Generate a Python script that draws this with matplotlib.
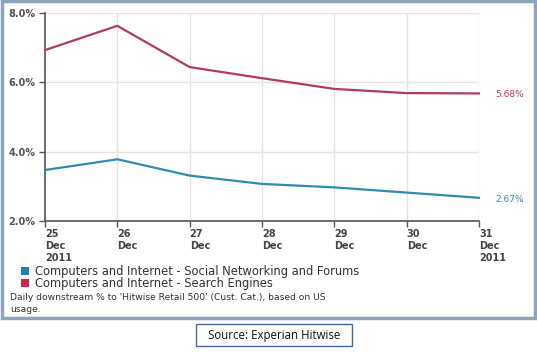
import matplotlib
matplotlib.use("Agg")
import matplotlib.pyplot as plt
from matplotlib.patches import Rectangle
import matplotlib.transforms as mtrans

dates = ["25\nDec\n2011", "26\nDec", "27\nDec", "28\nDec", "29\nDec", "30\nDec", "31\nDec\n2011"]
social = [3.47, 3.78, 3.31, 3.07, 2.97, 2.82, 2.67]
search = [6.93, 7.63, 6.44, 6.12, 5.81, 5.69, 5.68]
yticks = [2.0, 4.0, 6.0, 8.0]
series_names = ["Computers and Internet - Social Networking and Forums",
                "Computers and Internet - Search Engines"]

W, H = 537, 353
fig = plt.figure(figsize=(W / 100, H / 100), dpi=100)
fig.patch.set_facecolor("white")

def fx(px):
    return px / W

def fy(py):
    return 1 - py / H

# outer bordered panel
fig.patches.append(Rectangle((fx(1.5), fy(318)), fx(533), 317 / H, transform=fig.transFigure,
                             facecolor="none", edgecolor="#8ea3bd", linewidth=2.5, zorder=-1))

ax = fig.add_axes([fx(45), fy(221), fx(479 - 45), (221 - 13) / H])
ax.set_zorder(2)
ax.set_facecolor("none")
x = list(range(len(dates)))
red = "#b23a5e"
blue = "#2e8cb0"
ax.plot(x, search, color=red, lw=1.6, zorder=3, clip_on=False)
ax.plot(x, social, color=blue, lw=1.6, zorder=3, clip_on=False)
ax.set_xlim(0, len(dates) - 1)
ax.set_ylim(2.0, 8.0)
ax.set_yticks(yticks)
ax.set_yticklabels([f"{v:.1f}%" for v in yticks], fontsize=7, color="#555555", fontweight="bold")
ax.set_xticks(x)
ax.set_xticklabels(dates, fontsize=7, color="#444444", fontweight="bold", ha="left", va="top",
                   linespacing=1.25)
offset = mtrans.ScaledTranslation(1 / 100, 0, fig.dpi_scale_trans)
for lab in ax.get_xticklabels():
    lab.set_transform(lab.get_transform() + offset)
ax.grid(True, color="#e4e4e4", lw=1)
for s in ["top", "right"]:
    ax.spines[s].set_visible(False)
for s in ["left", "bottom"]:
    ax.spines[s].set_color("#555555")
    ax.spines[s].set_linewidth(1.2)
ax.tick_params(axis="both", length=4, width=1, color="#555555", pad=2)
ax.tick_params(axis="y", pad=3)

# end labels
ax.annotate(f"{search[-1]:.2f}%", (x[-1], search[-1]), xytext=(12, -1), textcoords="offset points",
            fontsize=6.5, color=red, va="center", ha="left")
ax.annotate(f"{social[-1]:.2f}%", (x[-1], social[-1]), xytext=(12, -1), textcoords="offset points",
            fontsize=6.5, color=blue, va="center", ha="left")

# legend
leg_colors = ["#1f7fbf", "#d4204c"]
for i, (name, c) in enumerate(zip(series_names, leg_colors)):
    yy = 271 + i * 12
    fig.patches.append(Rectangle((fx(21), fy(yy + 4)), fx(8), 8 / H, transform=fig.transFigure,
                                 facecolor=c, edgecolor="none"))
    fig.text(fx(35), fy(yy), name, fontsize=8.3, color="#333333", va="center", ha="left")

fig.text(fx(10), fy(297), "Daily downstream % to 'Hitwise Retail 500' (Cust. Cat.), based on US",
         fontsize=6.6, color="#333333", va="center", ha="left")
fig.text(fx(10), fy(309), "usage.", fontsize=6.6, color="#333333", va="center", ha="left")

# source box
fig.patches.append(Rectangle((fx(196), fy(346)), fx(156), 22 / H, transform=fig.transFigure,
                             facecolor="white", edgecolor="#4a6a95", linewidth=1))
fig.text(fx(274), fy(335), "Source: Experian Hitwise", fontsize=8.3, color="#111111",
         va="center", ha="center", family="Open Sans")

fig.savefig("out.png", dpi=100)
